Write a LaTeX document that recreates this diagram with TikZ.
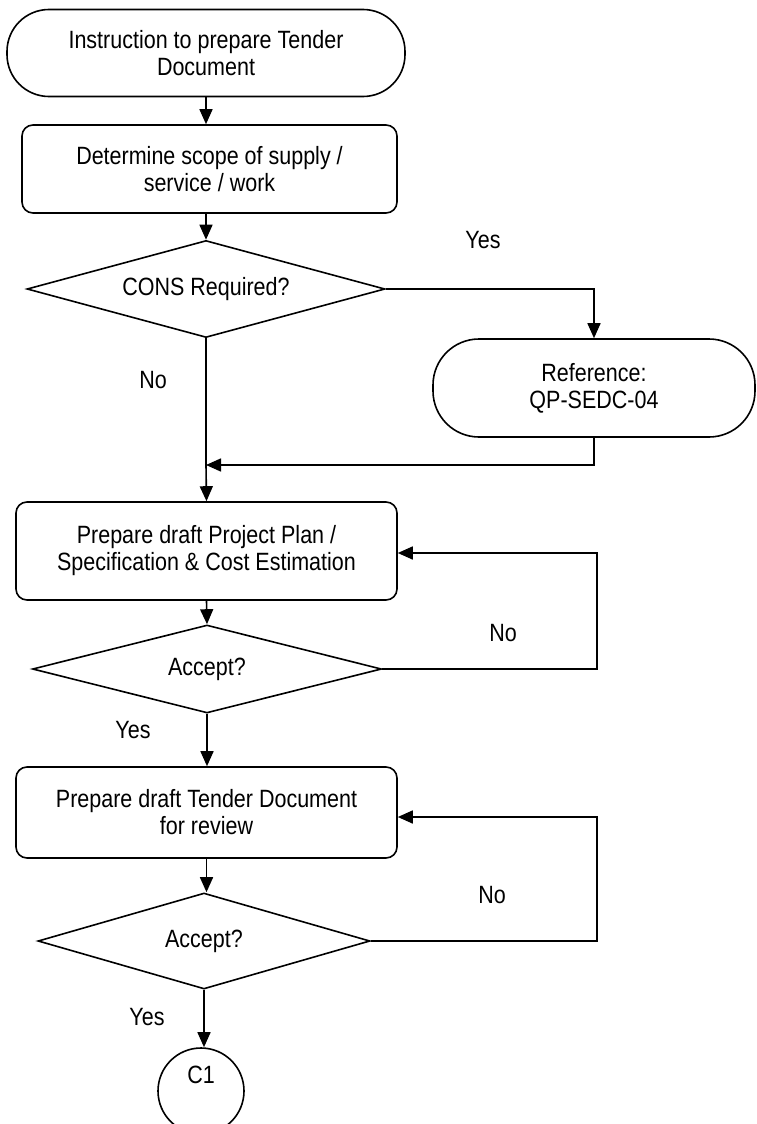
\documentclass[tikz,border=0pt]{standalone}
\usepackage{fontspec}
\setmainfont{Liberation Sans}[FakeStretch=0.86]
\usetikzlibrary{shapes.geometric,arrows.meta}
\begin{document}
\begin{tikzpicture}[x=1pt,y=-1pt,
  every node/.style={font=\fontsize{25}{27}\selectfont, align=center},
  base/.style={draw, line width=1.6pt, inner sep=0pt},
  terminal/.style={base, rectangle, rounded corners=42pt},
  process/.style={base, rectangle, rounded corners=11pt},
  decision/.style={base, diamond, aspect=3.7},
  connector/.style={base, circle},
  flow/.style={line width=1.6pt, -{Triangle[length=15pt,width=13pt]}},
  line/.style={line width=1.6pt},
  lbl/.style={inner sep=0pt}]
\useasboundingbox (0,0) rectangle (756,1124);
\begin{scope}
\clip (0,0) rectangle (756,1124);

% main column
\node[terminal, minimum width=398pt, minimum height=87pt] (start) at (206,53)
  {Instruction to prepare Tender\\Document};
\node[process, minimum width=375pt, minimum height=88pt] (scope) at (209.5,169)
  {Determine scope of supply /\\service / work};
\node[decision, minimum width=358pt, minimum height=97pt] (cons) at (206,289)
  {CONS Required?};
\node[terminal, rounded corners=46pt, minimum width=322pt, minimum height=98pt] (ref) at (594,388)
  {Reference:\\QP-SEDC-04};
\coordinate (merge) at (206,465);
\node[process, minimum width=381pt, minimum height=98pt] (plan) at (206.5,551)
  {Prepare draft Project Plan /\\Specification \& Cost Estimation};
\node[decision, minimum width=349pt, minimum height=88pt] (acc1) at (207,669)
  {Accept?};
\node[process, minimum width=381pt, minimum height=91pt] (tender) at (206.5,812.5)
  {Prepare draft Tender Document\\for review};
\node[decision, minimum width=332pt, minimum height=96pt] (acc2) at (204,941)
  {Accept?};
\node[connector, minimum size=86pt] (c1) at (201,1091) {};
\node[lbl] at (201,1075) {C1};

% labels on branches
\node[lbl] (yes1) at (483,240) {Yes};
\node[lbl] (no1) at (153,380) {No};
\node[lbl] (no2) at (503,633) {No};
\node[lbl] (yes2) at (133,730) {Yes};
\node[lbl] (no3) at (492,895) {No};
\node[lbl] (yes3) at (147,1017) {Yes};

% connectors
\draw[flow] (start.south) -- (start.south |- scope.north);
\draw[flow] (scope.south -| cons.north) -- (cons.north);
\draw[flow] (cons.east) -| (ref.north);
\draw[line] (cons.south) -- (merge);
\draw[flow] (ref.south) |- (merge);
\draw[flow] (merge) -- (plan.north);
\draw[flow] (plan.south) -- (acc1.north);
\draw[flow] (acc1.east) -- (597,669) |- ([yshift=-2pt]plan.east);
\draw[flow] (acc1.south) -- (tender.north -| acc1.south);
\draw[flow] (tender.south) -- (acc2.north -| tender.south);
\draw[flow] (acc2.east) -- (597,941) |- ([yshift=-4.5pt]tender.east);
\draw[flow] (acc2.south) -- (c1.north -| acc2.south);
\end{scope}
\end{tikzpicture}
\end{document}
